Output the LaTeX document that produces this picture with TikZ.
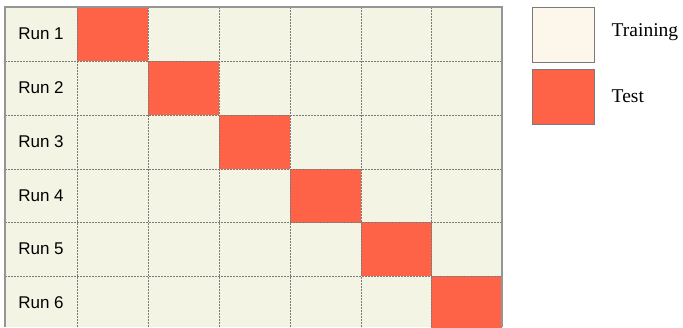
\documentclass[tikz,border=0pt]{standalone}
\usepackage{fontspec}
\setmainfont{Liberation Serif}
\setsansfont{Liberation Sans}
\usetikzlibrary{positioning}
\definecolor{cellbg}{HTML}{F4F4E4}
\definecolor{testred}{HTML}{FF6347}
\definecolor{trainbg}{HTML}{FDF6EA}
\definecolor{linegray}{HTML}{7A7A7A}
\tikzset{
  x=1pt,y=-1pt,
  cell/.style={rectangle,fill=testred,minimum width=71pt,minimum height=54pt,inner sep=0pt},
  lab/.style={font=\sffamily\fontsize{17}{20}\selectfont},
  key/.style={rectangle,draw=linegray,line width=1pt,minimum width=62pt,minimum height=55pt,inner sep=0pt},
  txt/.style={font=\fontsize{19.5}{22}\selectfont,inner sep=0pt},
  gline/.style={draw=linegray,line width=0.8pt,dash pattern=on 1.5pt off 1.5pt},
  edge/.style={draw=linegray!80,line width=1.2pt},
}

\begin{document}
\begin{tikzpicture}
\useasboundingbox (0,0) rectangle (683,327);
\fill[cellbg] (5,7) rectangle (502,327);
% test folds on the diagonal
\node[cell] (t1) at (112.5,34){}; \node[cell] (t2) at (183.5,88){};
\node[cell] (t3) at (254.5,142){}; \node[cell] (t4) at (325.5,195.5){};
\node[cell] (t5) at (396.5,249){}; \node[cell] (t6) at (466.5,303){};
% dotted grid
\draw[gline] (5,61)--(502,61) (5,115)--(502,115) (5,169)--(502,169) (5,222)--(502,222) (5,276)--(502,276);
\draw[gline] (77,7)--(77,327) (148,7)--(148,327) (219,7)--(219,327) (290,7)--(290,327) (361,7)--(361,327) (431,7)--(431,327);
\draw[edge] (5,327)--(5,7)--(502,7)--(502,327);
\node[lab] (r1) at (41,34) {Run 1}; \node[lab] (r2) at (41,88) {Run 2};
\node[lab] (r3) at (41,142) {Run 3}; \node[lab] (r4) at (41,195.5) {Run 4};
\node[lab] (r5) at (41,249) {Run 5}; \node[lab] (r6) at (41,303) {Run 6};
% legend
\node[key,fill=trainbg] (trn) at (563,34.5){}; \node[key,fill=testred] (tst) at (563,96.5){};
\node[txt,right=17pt of trn,yshift=2pt] (ltrn) {Training};
\node[txt,right=17pt of tst] (ltst) {Test};
\end{tikzpicture}
\end{document}
